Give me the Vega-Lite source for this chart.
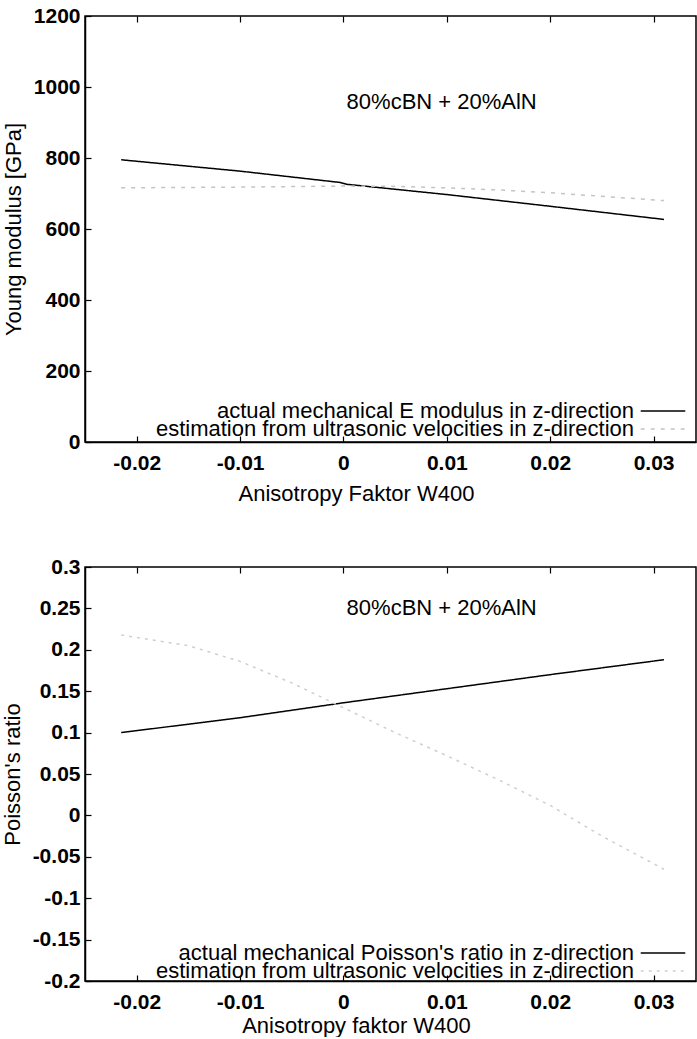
{
  "$schema": "https://vega.github.io/schema/vega-lite/v6.json",
  "background": "white",
  "padding": {"left": 0, "top": 4, "right": 0, "bottom": 0},
  "spacing": 50,
  "config": {
    "font": "Liberation Sans",
    "view": {"stroke": "black", "strokeWidth": 1.5},
    "axis": {
      "domainColor": "black", "domainWidth": 1.5,
      "tickColor": "black", "tickSize": -6, "tickWidth": 1.2,
      "labelColor": "black", "labelFontSize": 21, "labelFontWeight": "bold",
      "labelExpr": "'' + datum.value",
      "titleColor": "black", "titleFontSize": 22, "titleFontWeight": "normal",
      "grid": false
    },
    "axisX": {"labelPadding": 16, "titlePadding": 10, "titleX": 271},
    "axisY": {"labelPadding": 11, "titlePadding": 8},
    "legend": {
      "orient": "none", "title": null,
      "symbolType": "M-8,0H8", "symbolSize": 31, "symbolStrokeWidth": 1.5,
      "labelAlign": "right", "labelOffset": -40, "labelFontSize": 22,
      "labelColor": "black", "labelLimit": 700, "rowPadding": 0
    }
  },
  "datasets": {
    "young": [
      {"w": -0.0215, "E": 795, "series": "actual mechanical E modulus in z-direction"},
      {"w": -0.01, "E": 763, "series": "actual mechanical E modulus in z-direction"},
      {"w": -0.0003, "E": 731, "series": "actual mechanical E modulus in z-direction"},
      {"w": 0.0003, "E": 726, "series": "actual mechanical E modulus in z-direction"},
      {"w": 0.01, "E": 697, "series": "actual mechanical E modulus in z-direction"},
      {"w": 0.02, "E": 664, "series": "actual mechanical E modulus in z-direction"},
      {"w": 0.031, "E": 627, "series": "actual mechanical E modulus in z-direction"},
      {"w": -0.0215, "E": 716, "series": "estimation from ultrasonic velocities in z-direction"},
      {"w": -0.01, "E": 718, "series": "estimation from ultrasonic velocities in z-direction"},
      {"w": 0, "E": 721, "series": "estimation from ultrasonic velocities in z-direction"},
      {"w": 0.005, "E": 720, "series": "estimation from ultrasonic velocities in z-direction"},
      {"w": 0.01, "E": 716, "series": "estimation from ultrasonic velocities in z-direction"},
      {"w": 0.015, "E": 710, "series": "estimation from ultrasonic velocities in z-direction"},
      {"w": 0.02, "E": 702, "series": "estimation from ultrasonic velocities in z-direction"},
      {"w": 0.025, "E": 692, "series": "estimation from ultrasonic velocities in z-direction"},
      {"w": 0.031, "E": 680, "series": "estimation from ultrasonic velocities in z-direction"}
    ],
    "poisson": [
      {"w": -0.0215, "nu": 0.1, "series": "actual mechanical Poisson's ratio in z-direction"},
      {"w": -0.01, "nu": 0.118, "series": "actual mechanical Poisson's ratio in z-direction"},
      {"w": 0, "nu": 0.136, "series": "actual mechanical Poisson's ratio in z-direction"},
      {"w": 0.01, "nu": 0.153, "series": "actual mechanical Poisson's ratio in z-direction"},
      {"w": 0.02, "nu": 0.17, "series": "actual mechanical Poisson's ratio in z-direction"},
      {"w": 0.031, "nu": 0.188, "series": "actual mechanical Poisson's ratio in z-direction"},
      {"w": -0.0215, "nu": 0.218, "series": "estimation from ultrasonic velocities in z-direction"},
      {"w": -0.015, "nu": 0.205, "series": "estimation from ultrasonic velocities in z-direction"},
      {"w": -0.01, "nu": 0.186, "series": "estimation from ultrasonic velocities in z-direction"},
      {"w": -0.005, "nu": 0.16, "series": "estimation from ultrasonic velocities in z-direction"},
      {"w": 0, "nu": 0.13, "series": "estimation from ultrasonic velocities in z-direction"},
      {"w": 0.005, "nu": 0.1, "series": "estimation from ultrasonic velocities in z-direction"},
      {"w": 0.01, "nu": 0.072, "series": "estimation from ultrasonic velocities in z-direction"},
      {"w": 0.015, "nu": 0.043, "series": "estimation from ultrasonic velocities in z-direction"},
      {"w": 0.02, "nu": 0.012, "series": "estimation from ultrasonic velocities in z-direction"},
      {"w": 0.025, "nu": -0.025, "series": "estimation from ultrasonic velocities in z-direction"},
      {"w": 0.031, "nu": -0.065, "series": "estimation from ultrasonic velocities in z-direction"}
    ],
    "note1": [{"w": 0.0095, "E": 958, "label": "80%cBN + 20%AlN"}],
    "note2": [{"w": 0.0095, "nu": 0.25, "label": "80%cBN + 20%AlN"}]
  },
  "vconcat": [
    {
      "width": 611,
      "height": 426,
      "layer": [
        {
          "data": {"name": "young"},
          "mark": {"type": "line", "strokeWidth": 1.5},
          "encoding": {
            "x": {"field": "w", "type": "quantitative",
              "scale": {"domain": [-0.025, 0.0341], "nice": false, "zero": false},
              "axis": {"values": [-0.02, -0.01, 0, 0.01, 0.02, 0.03], "title": "Anisotropy  Faktor W400"}},
            "y": {"field": "E", "type": "quantitative",
              "scale": {"domain": [0, 1200], "nice": false},
              "axis": {"values": [0, 200, 400, 600, 800, 1000, 1200], "title": "Young modulus [GPa]"}},
            "color": {"field": "series", "type": "nominal",
              "scale": {"domain": ["actual mechanical E modulus in z-direction", "estimation from ultrasonic velocities in z-direction"], "range": ["black", "#c4c4c4"]},
              "legend": {"values": ["actual mechanical E modulus in z-direction"], "legendX": 567, "legendY": 384}},
            "strokeDash": {"field": "series", "type": "nominal",
              "scale": {"domain": ["estimation from ultrasonic velocities in z-direction", "actual mechanical E modulus in z-direction"], "range": [[4, 6], [1, 0]]},
              "legend": {"values": ["estimation from ultrasonic velocities in z-direction"], "legendX": 567, "legendY": 402, "symbolStrokeColor": "#c4c4c4"}}
          }
        },
        {
          "data": {"name": "note1"},
          "mark": {"type": "text", "fontSize": 22, "color": "black", "align": "center", "baseline": "middle"},
          "encoding": {
            "x": {"field": "w", "type": "quantitative",
              "axis": {"orient": "top", "values": [-0.02, -0.01, 0, 0.01, 0.02, 0.03], "labels": false, "title": null, "domain": false}},
            "y": {"field": "E", "type": "quantitative"},
            "text": {"field": "label"}
          }
        }
      ],
      "resolve": {"axis": {"x": "independent"}}
    },
    {
      "width": 611,
      "height": 414,
      "layer": [
        {
          "data": {"name": "poisson"},
          "mark": {"type": "line", "strokeWidth": 1.5},
          "encoding": {
            "x": {"field": "w", "type": "quantitative",
              "scale": {"domain": [-0.025, 0.0341], "nice": false, "zero": false},
              "axis": {"values": [-0.02, -0.01, 0, 0.01, 0.02, 0.03], "title": "Anisotropy  faktor W400", "titlePadding": 3}},
            "y": {"field": "nu", "type": "quantitative",
              "scale": {"domain": [-0.2, 0.3], "nice": false, "zero": false},
              "axis": {"values": [-0.2, -0.15, -0.1, -0.05, 0, 0.05, 0.1, 0.15, 0.2, 0.25, 0.3], "title": "Poisson's ratio"}},
            "color": {"field": "series", "type": "nominal",
              "scale": {"domain": ["actual mechanical Poisson's ratio in z-direction", "estimation from ultrasonic velocities in z-direction"], "range": ["black", "#cfcfcf"]},
              "legend": {"values": ["actual mechanical Poisson's ratio in z-direction"], "legendX": 567, "legendY": 375}},
            "strokeDash": {"field": "series", "type": "nominal",
              "scale": {"domain": ["estimation from ultrasonic velocities in z-direction", "actual mechanical Poisson's ratio in z-direction"], "range": [[3, 5], [1, 0]]},
              "legend": {"values": ["estimation from ultrasonic velocities in z-direction"], "legendX": 567, "legendY": 393, "symbolStrokeColor": "#cfcfcf"}}
          }
        },
        {
          "data": {"name": "note2"},
          "mark": {"type": "text", "fontSize": 22, "color": "black", "align": "center", "baseline": "middle"},
          "encoding": {
            "x": {"field": "w", "type": "quantitative",
              "axis": {"orient": "top", "values": [-0.02, -0.01, 0, 0.01, 0.02, 0.03], "labels": false, "title": null, "domain": false}},
            "y": {"field": "nu", "type": "quantitative"},
            "text": {"field": "label"}
          }
        }
      ],
      "resolve": {"axis": {"x": "independent"}}
    }
  ],
  "resolve": {"scale": {"color": "independent", "strokeDash": "independent"}, "legend": {"color": "independent", "strokeDash": "independent"}}
}
